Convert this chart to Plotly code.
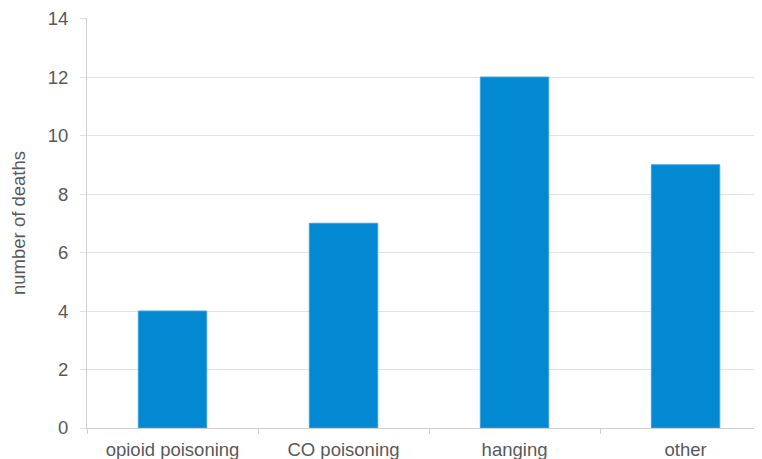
import plotly.graph_objects as go

categories = ["opioid poisoning", "CO poisoning", "hanging", "other"]
deaths = [4, 7, 12, 9]
y_ticks = [0, 2, 4, 6, 8, 10, 12, 14]

fig = go.Figure(go.Bar(
    x=categories, y=deaths,
    marker=dict(color="#0289d1", line=dict(color="#3aa3dc", width=1)),
    width=0.4,
))

# page body has an 8px default margin, so the figure is sized to fit inside it
fig.update_layout(
    width=754, height=451,
    margin=dict(l=79, r=0, t=10, b=31, autoexpand=False),
    plot_bgcolor="white", paper_bgcolor="white",
    font=dict(family="Liberation Sans, Arial, sans-serif", color="#595959"),
    showlegend=False,
)
fig.update_xaxes(
    range=[-0.5, 3.447], automargin=False,
    tickson="boundaries", ticks="outside", ticklen=5, tickcolor="#d0d0d0",
    showline=True, linecolor="#d0d0d0", linewidth=1,
    showgrid=False, tickfont=dict(size=18.5, color="#595959"),
    ticklabelstandoff=5,
)
fig.update_yaxes(
    range=[0, 14.02], tickvals=y_ticks, automargin=False,
    ticks="outside", ticklen=6, tickcolor="#e0e0e0",
    showline=True, linecolor="#d0d0d0", linewidth=1,
    gridcolor="#e3e3e3", gridwidth=1, zeroline=False,
    tickfont=dict(size=18.5, color="#595959"),
    ticklabelstandoff=8,
    title=dict(text="number of deaths", font=dict(size=18.5, color="#595959"), standoff=25),
)

fig.write_html("out.html")
